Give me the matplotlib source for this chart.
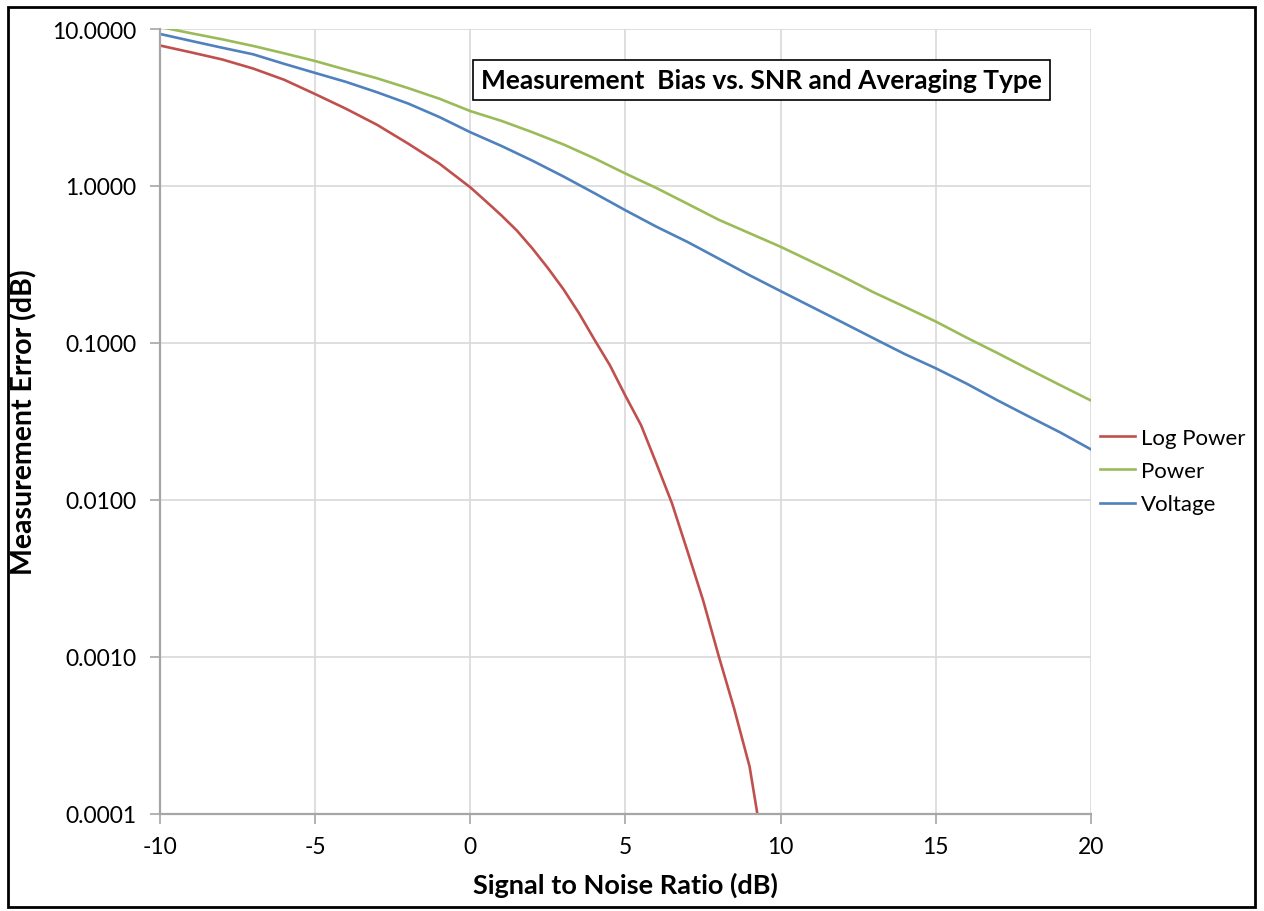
import matplotlib.pyplot as plt
from matplotlib.patches import Rectangle
from matplotlib.ticker import FixedLocator, FormatStrFormatter, NullLocator

# SNR (dB) grid
snr = [-10, -9, -8, -7, -6, -5, -4, -3, -2, -1, 0, 1, 2, 3, 4, 5,
       6, 7, 8, 9, 10, 11, 12, 13, 14, 15, 16, 17, 18, 19, 20]

power = [10.3, 9.4, 8.6, 7.8, 7.0, 6.25, 5.5, 4.85, 4.2, 3.6, 3.0, 2.6, 2.2,
         1.84, 1.5, 1.2, 0.97, 0.77, 0.61, 0.5, 0.41, 0.33, 0.265, 0.21,
         0.17, 0.137, 0.108, 0.086, 0.068, 0.054, 0.043]

voltage = [9.3, 8.4, 7.6, 6.9, 6.0, 5.25, 4.6, 3.95, 3.35, 2.75, 2.2, 1.8, 1.45,
           1.15, 0.9, 0.7, 0.55, 0.44, 0.345, 0.27, 0.214, 0.17, 0.135, 0.107,
           0.085, 0.069, 0.055, 0.043, 0.034, 0.027, 0.021]

# log power falls off a cliff, so it has a finer grid near the end
snr_log = [-10, -9, -8, -7, -6, -5, -4, -3, -2, -1, 0, 0.5, 1, 1.5, 2, 2.5, 3,
           3.5, 4, 4.5, 5, 5.5, 6, 6.5, 7, 7.5, 8, 8.5, 9, 9.25]
log_power = [7.85, 7.1, 6.4, 5.6, 4.75, 3.85, 3.1, 2.45, 1.86, 1.39, 0.98, 0.8,
             0.65, 0.52, 0.4, 0.3, 0.22, 0.155, 0.105, 0.072, 0.046, 0.03,
             0.017, 0.0095, 0.0047, 0.0023, 0.00102, 0.00047, 0.0002, 0.0001]

xticks = [-10, -5, 0, 5, 10, 15, 20]
yticks = [0.0001, 0.001, 0.01, 0.1, 1, 10]

plt.rcParams['font.family'] = ['Lato', 'DejaVu Sans']
plt.rcParams['axes.unicode_minus'] = False

fig = plt.figure(figsize=(12.64, 9.12), dpi=100)
ax = fig.add_axes([0.1266, 0.1064, 0.7365, 0.8607])

ax.plot(snr_log, log_power, color='#C0504D', lw=1.9, label='Log Power')
ax.plot(snr, power, color='#9BBB59', lw=1.9, label='Power')
ax.plot(snr, voltage, color='#4F81BD', lw=1.9, label='Voltage')

ax.set_yscale('log')
ax.set_xlim(-10, 20)
ax.set_ylim(0.0001, 10)
ax.xaxis.set_major_locator(FixedLocator(xticks))
ax.yaxis.set_major_locator(FixedLocator(yticks))
ax.yaxis.set_minor_locator(NullLocator())
ax.yaxis.set_major_formatter(FormatStrFormatter('%.4f'))
ax.tick_params(axis='both', labelsize=16.5, color='#a6a6a6', length=7, width=1.2)
ax.tick_params(axis='x', pad=9)
ax.tick_params(axis='y', pad=10)

ax.grid(True, color='#d9d9d9', lw=1.2)
ax.set_axisbelow(True)
for side in ('top', 'right'):
    ax.spines[side].set_visible(False)
for side in ('left', 'bottom'):
    ax.spines[side].set_color('#a6a6a6')
    ax.spines[side].set_linewidth(1.6)

ax.set_xlabel('Signal to Noise Ratio (dB)', fontsize=19.5, fontweight='bold')
ax.set_ylabel('Measurement Error (dB)', fontsize=20.5, fontweight='bold')
ax.xaxis.set_label_coords(0.5, -0.074)
ax.yaxis.set_label_coords(-0.132, 0.5)

ax.text(0.646, 0.935, 'Measurement  Bias vs. SNR and Averaging Type',
        transform=ax.transAxes, ha='center', va='center', fontsize=19,
        fontweight='bold',
        bbox=dict(boxstyle='square,pad=0.3', fc='white', ec='black', lw=1.2))

fig.legend(loc='center left', bbox_to_anchor=(0.870, 0.4825), frameon=False,
           borderaxespad=0, borderpad=0, fontsize=16, handlelength=1.6,
           handletextpad=0.25, labelspacing=0.6)

# black frame round the whole picture
fig.patches.append(Rectangle((0.0063, 0.0044), 0.9866, 0.987, transform=fig.transFigure,
                             fill=False, ec='black', lw=2))

fig.savefig('out.png', dpi=100)
